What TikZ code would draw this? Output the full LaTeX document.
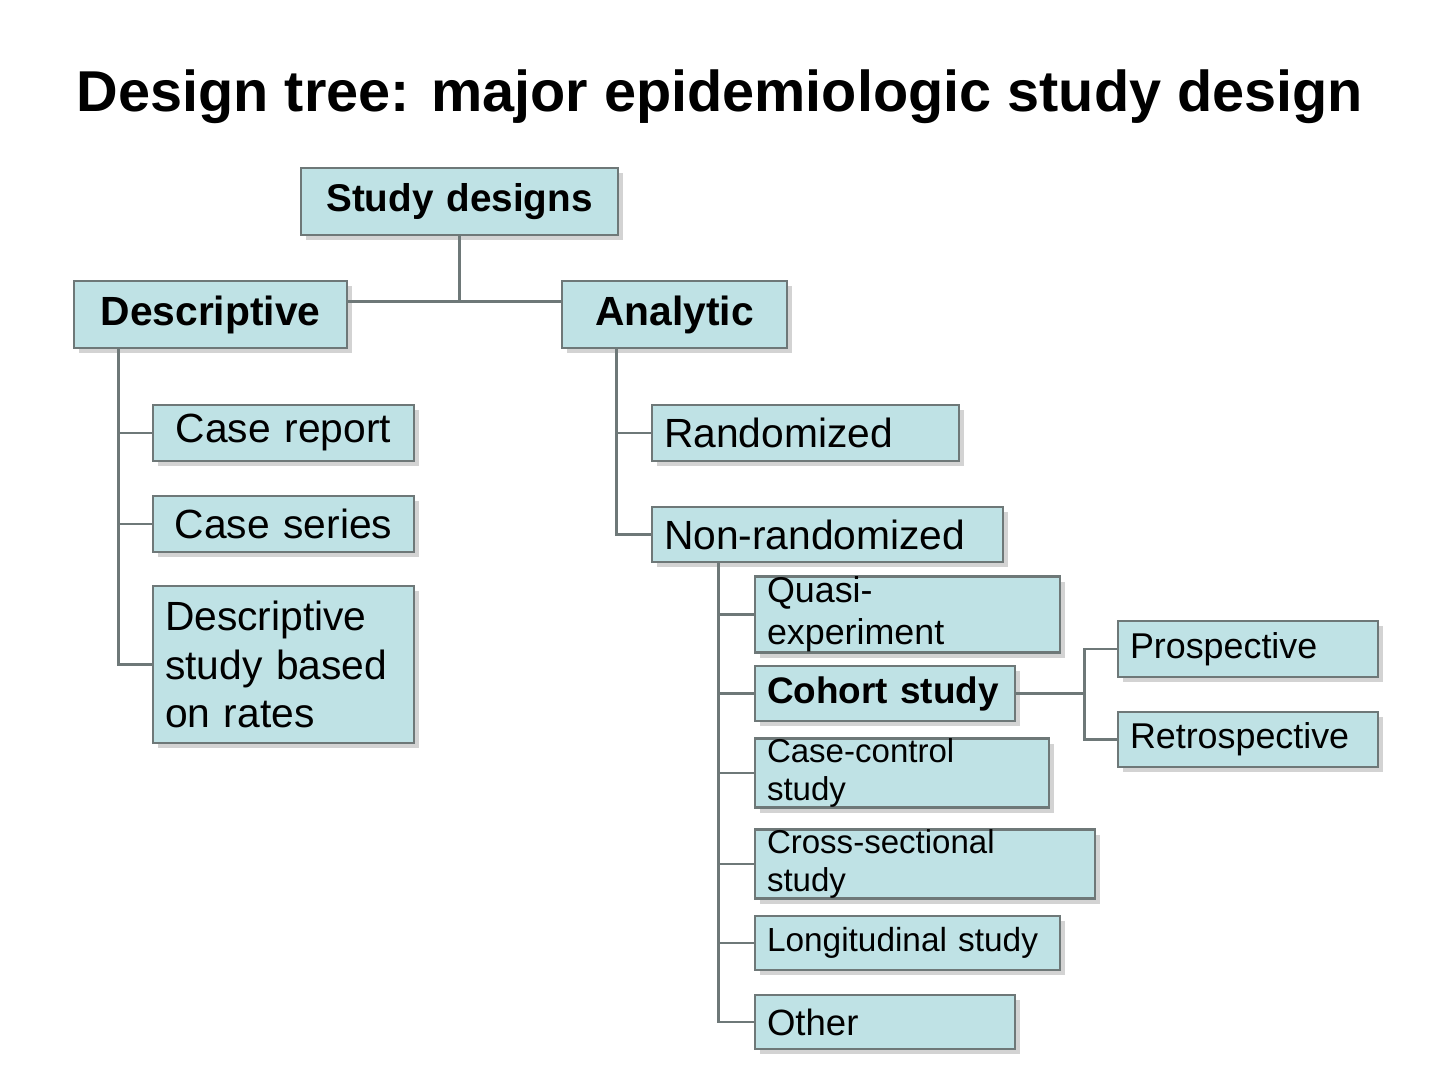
\documentclass[tikz,border=0pt]{standalone}
\usepackage{fontspec}
\setmainfont{Liberation Sans}
\usetikzlibrary{positioning,shadows}
\definecolor{boxfill}{RGB}{191,226,229}
\definecolor{boxline}{RGB}{110,120,120}
\tikzset{
  box/.style={draw=boxline, thick, fill=boxfill, inner xsep=0.12cm, inner ysep=0pt,
              execute at begin node={\hyphenpenalty 10000\relax},
              drop shadow={opacity=0.35, shadow xshift=1.5pt, shadow yshift=-1.5pt}},
  link/.style={thick, boxline},
}
% box from pixel corners: name, left, top, right, bottom, options, text
\newcommand{\mybox}[7]{%
  \pgfmathsetmacro{\bw}{(#4-#2)/100}%
  \pgfmathsetmacro{\bh}{(#5-#3)/100}%
  \pgfmathsetmacro{\tw}{(#4-#2)/100-0.24}%
  \node[box, minimum width=\bw cm, minimum height=\bh cm, text width=\tw cm, #6]
    (#1) at ({(#2+#4)/200},{-(#3+#5)/200}) {#7};}

\begin{document}
\begin{tikzpicture}
\useasboundingbox (0,0) rectangle (14.4,-10.8);

\node (title) at (7.2,-0.97) {\fontsize{16.4}{20}\selectfont\bfseries Design tree: major epidemiologic study design};

% first levels
\mybox{sd}{301}{168}{618}{235}{align=center, font=\fontsize{11}{13}\selectfont\bfseries}{Study designs}
\mybox{desc}{74}{281}{347}{348}{align=center, font=\fontsize{11.6}{14}\selectfont\bfseries}{Descriptive}
\mybox{an}{562}{281}{787}{348}{align=center, font=\fontsize{11.6}{14}\selectfont\bfseries}{Analytic}

% descriptive branch
\mybox{crep}{153}{405}{414}{461}{align=center, font=\fontsize{11.6}{14}\selectfont}{Case report}
\mybox{cser}{153}{496}{414}{552}{align=center, font=\fontsize{11.6}{14}\selectfont}{Case series}
\mybox{drate}{153}{586}{414}{743}{align=left, font=\fontsize{11.6}{13.7}\selectfont}{Descriptive study based on rates}

% analytic branch
\mybox{rand}{652}{405}{959}{461}{align=left, font=\fontsize{11.6}{14}\selectfont}{Randomized}
\mybox{nonr}{652}{507}{1003}{562}{align=left, font=\fontsize{11.6}{14}\selectfont}{Non-randomized}

\mybox{quasi}{755}{587}{1060}{642}{align=left, font=\fontsize{10.2}{12}\selectfont}{Quasi-experiment}
\mybox{coh}{755}{666}{1015}{721}{align=left, font=\fontsize{10.5}{12}\selectfont\bfseries}{Cohort study}
\mybox{cc}{755}{745}{1049}{801}{align=left, font=\fontsize{9.4}{11}\selectfont}{Case-control study}
\mybox{cross}{755}{837}{1095}{891}{align=left, font=\fontsize{9.4}{11}\selectfont}{Cross-sectional study}
\mybox{longi}{755}{916}{1060}{970}{align=left, font=\fontsize{9.5}{11}\selectfont}{Longitudinal study}
\mybox{other}{755}{995}{1015}{1049}{align=left, font=\fontsize{10.4}{12}\selectfont}{Other}

\mybox{pros}{1118}{621}{1378}{677}{align=left, font=\fontsize{10.2}{12}\selectfont}{Prospective}
\mybox{retro}{1118}{712}{1378}{767}{align=left, font=\fontsize{10.2}{12}\selectfont}{Retrospective}

% connectors
\draw[link] (sd.south) -- ++(0,-0.65) coordinate (j1);
\draw[link] (desc.east |- j1) -- (an.west |- j1);

\foreach \n in {crep,cser,drate}
  \draw[link] ([xshift=0.46cm]desc.south west) |- (\n.west);
\foreach \n in {rand,nonr}
  \draw[link] ([xshift=0.56cm]an.south west) |- (\n.west);
\foreach \n in {quasi,coh,cc,cross,longi,other}
  \draw[link] ([xshift=0.68cm]nonr.south west) |- (\n.west);

\draw[link] (coh.east) -- ++(0.68,0) coordinate (j2);
\foreach \n in {pros,retro}
  \draw[link] (j2) |- (\n.west);

\end{tikzpicture}
\end{document}
